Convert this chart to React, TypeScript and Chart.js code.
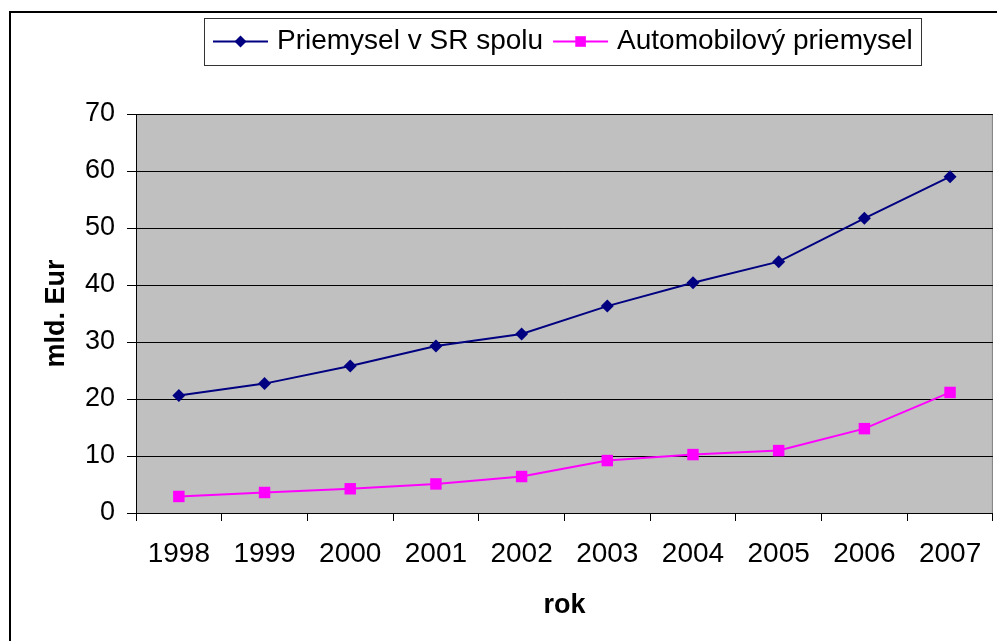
import React, { useEffect, useRef } from "react";
import { Chart, registerables } from "chart.js";

Chart.register(...registerables);

const years = ["1998", "1999", "2000", "2001", "2002", "2003", "2004", "2005", "2006", "2007"];
const industryTotal = [20.6, 22.7, 25.8, 29.3, 31.4, 36.3, 40.4, 44.1, 51.7, 59.0];
const automotive = [2.9, 3.6, 4.25, 5.1, 6.4, 9.2, 10.25, 10.95, 14.8, 21.15];
const seriesNames = ["Priemysel v SR spolu", "Automobilový priemysel"];
const yTitle = "mld. Eur";
const xTitle = "rok";
const yMin = 0;
const yMax = 70;
const yStep = 10;

const FONT = "'Liberation Sans', Arial, Helvetica, sans-serif";
const CANVAS_W = 1001;
const VIEW_W = 997;
const VIEW_H = 641;

const backgroundPlugin = {
  id: "bgPlugin",
  beforeDraw(chart: any) {
    const { ctx, chartArea } = chart;
    ctx.save();
    ctx.fillStyle = "#ffffff";
    ctx.fillRect(0, 0, chart.width, chart.height);
    ctx.fillStyle = "#C0C0C0";
    ctx.fillRect(chartArea.left, chartArea.top, chartArea.right - chartArea.left, chartArea.bottom - chartArea.top);
    ctx.strokeStyle = "#808080";
    ctx.lineWidth = 1;
    ctx.strokeRect(chartArea.left + 0.5, chartArea.top + 0.5, chartArea.right - chartArea.left - 1, chartArea.bottom - chartArea.top);
    // outer frame
    ctx.strokeStyle = "#000";
    ctx.lineWidth = 2;
    ctx.beginPath();
    ctx.moveTo(10, chart.height + 2);
    ctx.lineTo(10, 12);
    ctx.lineTo(chart.width + 2, 12);
    ctx.stroke();
    ctx.restore();
  },
};

function drawMarker(ctx: CanvasRenderingContext2D, style: string, x: number, y: number, r: number) {
  ctx.beginPath();
  if (style === "rectRot") {
    ctx.moveTo(x - r, y);
    ctx.lineTo(x, y - r);
    ctx.lineTo(x + r, y);
    ctx.lineTo(x, y + r);
    ctx.closePath();
  } else {
    const s = Math.SQRT1_2 * r;
    ctx.rect(x - s, y - s, 2 * s, 2 * s);
  }
  ctx.fill();
}

const legendPlugin = {
  id: "boxLegend",
  afterDraw(chart: any) {
    const ctx: CanvasRenderingContext2D = chart.ctx;
    ctx.save();
    ctx.fillStyle = "#fff";
    ctx.fillRect(204, 18, 718, 47);
    ctx.strokeStyle = "#333";
    ctx.lineWidth = 1;
    ctx.strokeRect(204.5, 18.5, 717, 47);
    ctx.font = `28px ${FONT}`;
    ctx.textBaseline = "middle";
    ctx.textAlign = "left";
    let x = 213;
    const y = 41.5;
    chart.data.datasets.forEach((ds: any) => {
      ctx.strokeStyle = ds.borderColor;
      ctx.lineWidth = 2;
      ctx.beginPath();
      ctx.moveTo(x, y);
      ctx.lineTo(x + 55, y);
      ctx.stroke();
      ctx.fillStyle = ds.pointBackgroundColor;
      drawMarker(ctx, ds.pointStyle, x + 27.5, y, ds.pointStyle === "rectRot" ? 6 : 7.5);
      ctx.fillStyle = "#000";
      ctx.fillText(ds.label, x + 64, y);
      x = x + 64 + ctx.measureText(ds.label).width + 10;
    });
    ctx.restore();
  },
};

export default function App() {
  const canvasRef = useRef<HTMLCanvasElement | null>(null);

  useEffect(() => {
    const canvas = canvasRef.current;
    if (!canvas) return;
    const chart = new Chart(canvas, {
      type: "line",
      data: {
        labels: years,
        datasets: [
          {
            label: seriesNames[0],
            data: industryTotal,
            borderColor: "#000080",
            backgroundColor: "#000080",
            pointBackgroundColor: "#000080",
            pointBorderColor: "#000080",
            pointStyle: "rectRot",
            pointRadius: 6.5,
            pointBorderWidth: 0,
            borderWidth: 2,
            tension: 0,
          },
          {
            label: seriesNames[1],
            data: automotive,
            borderColor: "#FF00FF",
            backgroundColor: "#FF00FF",
            pointBackgroundColor: "#FF00FF",
            pointBorderColor: "#FF00FF",
            pointStyle: "rect",
            pointRadius: 8.1,
            pointBorderWidth: 0,
            borderWidth: 2,
            tension: 0,
          },
        ],
      },
      options: {
        responsive: false,
        animation: false,
        events: [],
        layout: { padding: { top: 114, right: 0, bottom: 0, left: 0 } },
        plugins: {
          legend: { display: false },
          tooltip: { enabled: false },
          title: { display: false },
        },
        scales: {
          x: {
            type: "category",
            offset: true,
            grid: {
              offset: true,
              drawOnChartArea: false,
              drawTicks: true,
              tickLength: 8,
              color: "#000",
              lineWidth: 1,
            },
            border: { display: true, color: "#000", width: 1 },
            ticks: {
              color: "#000",
              font: { family: FONT, size: 28 },
              padding: 16,
              maxRotation: 0,
              autoSkip: false,
            },
            title: {
              display: true,
              text: xTitle,
              color: "#000",
              font: { family: FONT, size: 27, weight: "bold" },
              padding: { top: 0, bottom: 19 },
            },
            afterFit: (s: any) => {
              s.height = 128;
              s.paddingLeft = 0;
              s.paddingRight = 0;
            },
          },
          y: {
            min: yMin,
            max: yMax,
            grid: {
              color: "#000",
              lineWidth: 1,
              tickLength: 9,
              drawTicks: true,
            },
            border: { display: true, color: "#000", width: 1 },
            ticks: {
              stepSize: yStep,
              color: "#000",
              font: { family: FONT, size: 27 },
              padding: 12,
            },
            title: {
              display: true,
              text: yTitle,
              color: "#000",
              font: { family: FONT, size: 27, weight: "bold" },
              padding: { top: 40, bottom: 0 },
            },
            afterFit: (s: any) => {
              s.width = 136;
            },
          },
        },
      } as any,
      plugins: [backgroundPlugin, legendPlugin],
    });
    return () => chart.destroy();
  }, []);

  return (
    <div
      style={{
        position: "fixed",
        left: 0,
        top: 0,
        width: VIEW_W,
        height: VIEW_H,
        overflow: "hidden",
        background: "#fff",
      }}
    >
      <canvas ref={canvasRef} width={CANVAS_W} height={VIEW_H} style={{ display: "block" }} />
    </div>
  );
}
